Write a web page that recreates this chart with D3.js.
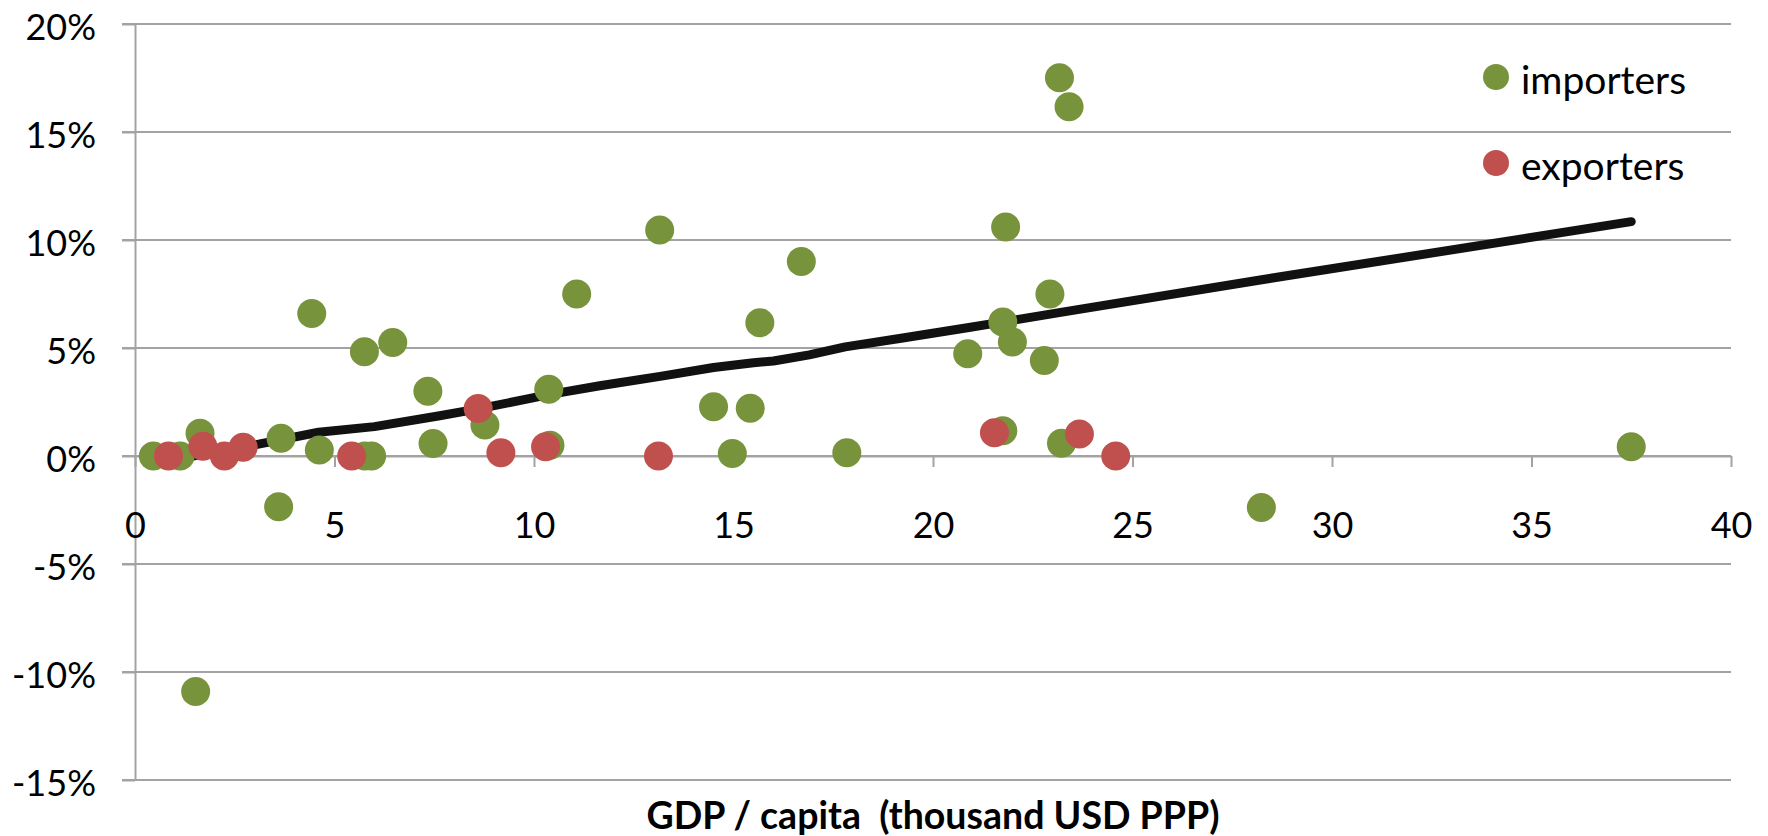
<!DOCTYPE html>
<meta charset="utf-8">
<style>
  body { margin: 0; background: #fff; }
  text { font-family: Lato, "Open Sans", sans-serif; fill: #000; }
</style>
<body>
<script src="https://cdnjs.cloudflare.com/ajax/libs/d3/7.8.5/d3.min.js"></script>
<script>

    var width = 1768,
        height = 836;

    // importers (green)
    var impX = [0.46, 1.13, 1.52, 1.63, 3.60, 3.66, 4.43, 4.62, 5.75, 5.76, 5.93, 6.46, 7.34, 7.47, 8.77,
                10.37, 10.40, 11.07, 13.15, 14.50, 14.97, 15.42, 15.66, 16.70, 17.84, 20.87, 21.75, 21.75,
                21.82, 21.99, 22.79, 22.93, 23.17, 23.22, 23.41, 28.23, 37.50];
    var impY = [0.00, 0.00, -10.90, 1.05, -2.35, 0.82, 6.60, 0.28, 4.83, 0.00, 0.00, 5.26, 3.00, 0.58, 1.44,
                3.09, 0.50, 7.50, 10.46, 2.28, 0.12, 2.21, 6.17, 9.00, 0.15, 4.73, 6.20, 1.17,
                10.60, 5.28, 4.42, 7.50, 17.51, 0.59, 16.17, -2.38, 0.43];

    // exporters (red)
    var expX = [0.84, 1.70, 2.24, 2.71, 5.43, 8.60, 9.17, 10.29, 13.12, 21.54, 23.67, 24.58];
    var expY = [0.00, 0.45, 0.00, 0.40, 0.00, 2.20, 0.15, 0.43, 0.00, 1.08, 1.02, 0.00];

    // fitted line
    var trendX = [1.45, 3.1, 4.6, 6.0, 7.6, 8.6, 10.4, 11.65, 13.2, 14.5, 15.5, 16.0, 16.9, 17.8,
                  19.2, 20.9, 21.8, 23.2, 23.7, 28.2, 37.5];
    var trendY = [0.0, 0.55, 1.1, 1.36, 1.85, 2.18, 2.85, 3.25, 3.7, 4.1, 4.32, 4.4, 4.68, 5.05,
                  5.45, 5.95, 6.22, 6.65, 6.8, 8.15, 10.85];

    var xTicks = [0, 5, 10, 15, 20, 25, 30, 35, 40];
    var yTicks = [-15, -10, -5, 0, 5, 10, 15, 20];
    var seriesNames = ["importers", "exporters"];
    var seriesColors = ["#77933c", "#c0504d"];
    var xTitle = "GDP / capita  (thousand USD PPP)";

    var x = d3.scaleLinear().domain([0, 40]).range([135, 1731]);
    var y = d3.scaleLinear().domain([-15, 20]).range([780, 24]);

    var svg = d3.select("body").append("svg")
            .attr("width", width)
            .attr("height", height);

    // horizontal grid
    svg.append("g").selectAll("line")
        .data(yTicks)
        .enter().append("line")
        .attr("x1", 122).attr("x2", x(40))
        .attr("y1", d => y(d)).attr("y2", d => y(d))
        .attr("stroke", "#a3a3a3")
        .attr("stroke-width", 2);

    // y axis
    var yAxis = svg.append("g")
        .attr("transform", "translate(" + x(0) + ",0)")
        .call(d3.axisLeft(y).tickValues(yTicks).tickSize(13).tickSizeOuter(0)
              .tickPadding(26).tickFormat(d => d + "%"));
    yAxis.select(".domain").attr("stroke", "#a3a3a3").attr("stroke-width", 2);
    yAxis.selectAll(".tick line").attr("stroke", "#a3a3a3").attr("stroke-width", 2);
    yAxis.selectAll("text")
        .attr("dy", "0.43em")
        .style("font-size", "36px")
        .style("font-family", "Lato, sans-serif");

    // x axis at 0%
    var xAxis = svg.append("g")
        .attr("transform", "translate(0," + y(0) + ")")
        .call(d3.axisBottom(x).tickValues(xTicks).tickSize(11).tickSizeOuter(0).tickPadding(45));
    xAxis.select(".domain").attr("stroke", "#a3a3a3").attr("stroke-width", 2);
    xAxis.selectAll(".tick line").attr("stroke", "#a3a3a3").attr("stroke-width", 2);
    xAxis.selectAll("text")
        .style("font-size", "36px")
        .style("font-family", "Lato, sans-serif");

    // trend line
    var trend = trendX.map((v, i) => [v, trendY[i]]);
    svg.append("path")
        .datum(trend)
        .attr("d", d3.line().x(d => x(d[0])).y(d => y(d[1])))
        .attr("fill", "none")
        .attr("stroke", "#111")
        .attr("stroke-width", 9)
        .attr("stroke-linecap", "round")
        .attr("stroke-linejoin", "round");

    // points
    var imp = impX.map((v, i) => [v, impY[i]]);
    var exp = expX.map((v, i) => [v, expY[i]]);

    svg.append("g").selectAll("circle")
        .data(imp)
        .enter().append("circle")
        .attr("cx", d => x(d[0]))
        .attr("cy", d => y(d[1]))
        .attr("r", 14.5)
        .attr("fill", seriesColors[0]);

    svg.append("g").selectAll("circle")
        .data(exp)
        .enter().append("circle")
        .attr("cx", d => x(d[0]))
        .attr("cy", d => y(d[1]))
        .attr("r", 14.5)
        .attr("fill", seriesColors[1]);

    // legend
    var legend = svg.append("g").selectAll("g")
        .data(seriesNames)
        .enter().append("g")
        .attr("transform", (d, i) => "translate(1496," + (77 + i * 86) + ")");
    legend.append("circle")
        .attr("r", 13)
        .attr("fill", (d, i) => seriesColors[i]);
    legend.append("text")
        .attr("x", 25)
        .attr("y", 17)
        .style("font-size", "39px")
        .text(d => d);

    // x title
    svg.append("text")
        .attr("x", (x(0) + x(40)) / 2)
        .attr("y", 829)
        .attr("text-anchor", "middle")
        .style("font-size", "37.5px")
        .style("font-weight", "bold")
        .style("white-space", "pre")
        .text(xTitle);

</script>
